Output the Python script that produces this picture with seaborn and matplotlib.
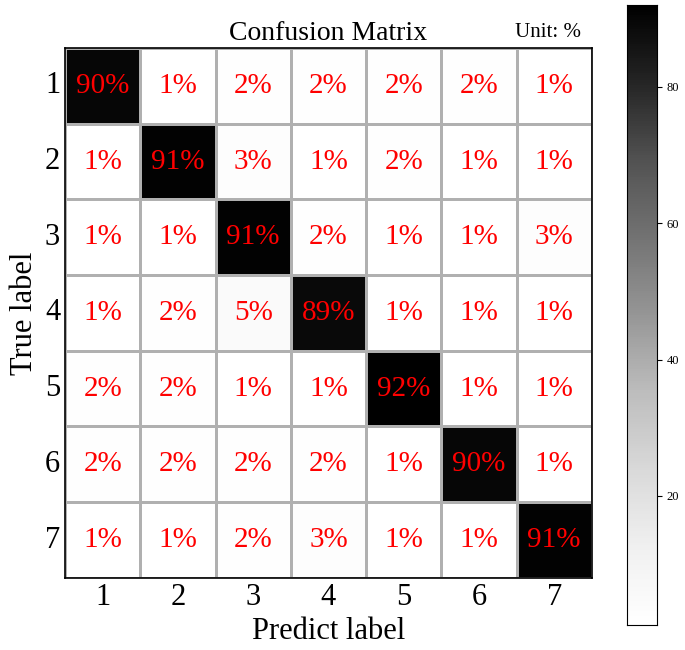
import numpy as np
import pandas as pd
import seaborn as sns
import matplotlib.pyplot as plt

labels = ['1', '2', '3', '4', '5', '6', '7']
row1 = [90, 1, 2, 2, 2, 2, 1]
row2 = [1, 91, 3, 1, 2, 1, 1]
row3 = [1, 1, 91, 2, 1, 1, 3]
row4 = [1, 2, 5, 89, 1, 1, 1]
row5 = [2, 2, 1, 1, 92, 1, 1]
row6 = [2, 2, 2, 2, 1, 90, 1]
row7 = [1, 1, 2, 3, 1, 1, 91]

cm = pd.DataFrame([row1, row2, row3, row4, row5, row6, row7], index=labels, columns=labels)
annot = cm.map(lambda v: f"{v}%")

plt.rcParams['font.family'] = 'Liberation Serif'
fig = plt.figure(figsize=(6.85, 6.5), dpi=100)
ax = fig.add_axes([0.095, 0.111, 0.769, 0.815])
cax = fig.add_axes([0.915, 0.038, 0.044, 0.954])

sns.heatmap(cm, annot=annot, fmt="", cmap="Greys", vmin=1, vmax=92,
            linewidths=1, linecolor='#b0b0b0', ax=ax, cbar_ax=cax,
            annot_kws={"size": 21, "color": "red"})

ax.set_xlabel("Predict label", fontsize=22)
ax.set_ylabel("True label", fontsize=22, labelpad=4)
ax.tick_params(axis='both', labelsize=22, length=0)
ax.tick_params(axis='y', rotation=0)
ax.set_title("Confusion Matrix", fontsize=20, pad=6)
ax.text(0.98, 1.012, "Unit: %", transform=ax.transAxes, ha='right', va='bottom', fontsize=15)

for spine in ax.spines.values():
    spine.set_visible(True)
    spine.set_linewidth(1.2)
    spine.set_color('black')

cax.set_yticks([20, 40, 60, 80])
cax.tick_params(labelsize=9)
for spine in cax.spines.values():
    spine.set_visible(True)
    spine.set_color('black')

fig.savefig("out.png", dpi=100)
